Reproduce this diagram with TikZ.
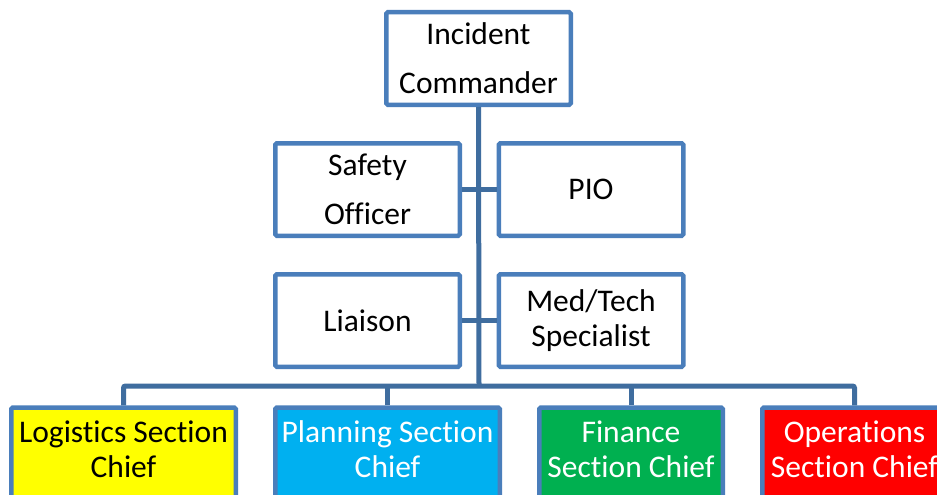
\documentclass[tikz,border=0pt]{standalone}
\usepackage{fontspec}
\setmainfont{Carlito}[Ligatures={NoCommon},RawFeature={-liga;-clig;-dlig}]
\definecolor{boxline}{HTML}{4A7EBB}
\definecolor{connline}{HTML}{3F6D9F}
\definecolor{logfill}{HTML}{FFFF00}
\definecolor{planfill}{HTML}{00B0F0}
\definecolor{finfill}{HTML}{00B050}
\definecolor{opsfill}{HTML}{FF0000}
\begin{document}
\begin{tikzpicture}[x=1pt,y=-1pt,
  box/.style={draw=boxline,line width=4.5pt,rounded corners=1.5pt,fill=white,
    minimum width=184.5pt,minimum height=92.5pt,inner sep=0pt,align=center,
    font=\fontsize{31.5}{49}\selectfont},
  tightbox/.style={box,font=\fontsize{31.5}{35}\selectfont},
  secbox/.style={draw=boxline,line width=4.5pt,rounded corners=1.5pt,
    minimum height=140pt,inner sep=0pt,anchor=north},
  sectext/.style={align=center,inner sep=0pt,anchor=base,
    font=\fontsize{31.5}{35}\selectfont},
  conn/.style={draw=connline,line width=5pt}]
\useasboundingbox (0,0) rectangle (937,495);
\fill[white] (0,0) rectangle (937,495);
% top and staff boxes
\node[box] (ic) at (478.5,58.5) {Incident\\Commander};
\node[box] (safety) at (367.5,189.5) {Safety\\Officer};
\node[box] (pio) at (591,189.5) {PIO};
\node[box] (liaison) at (367.5,320.5) {Liaison};
\node[tightbox] (med) at (591,320.5) {Med/Tech\\Specialist};
% section boxes
\node[secbox,fill=logfill,minimum width=224.5pt] (log) at (123.5,405.25) {};
\node[secbox,fill=planfill,minimum width=224.5pt] (plan) at (387.5,405.25) {};
\node[secbox,fill=finfill,minimum width=183.5pt] (fin) at (631,405.25) {};
\node[secbox,fill=opsfill,minimum width=184.5pt] (ops) at (854.5,405.25) {};
\node[sectext,text=black] (logt) at (123.5,477) {Logistics Section\\Chief};
\node[sectext,text=white] (plant) at (387.5,477) {Planning Section\\Chief};
\node[sectext,text=white] (fint) at (631,477) {Finance\\Section Chief};
\node[sectext,text=white] (opst) at (854.5,477) {Operations\\Section Chief};
% connectors
\coordinate (bus) at (479,386);
\draw[conn] (ic.south) -- (bus);
\draw[conn] (safety.east) -- (pio.west);
\draw[conn] (liaison.east) -- (med.west);
\draw[conn,rounded corners=2pt] (log.north) |- (bus) -| (ops.north);
\draw[conn] (plan.north) -- (plan.north |- bus);
\draw[conn] (fin.north) -- (fin.north |- bus);
\end{tikzpicture}
\end{document}
